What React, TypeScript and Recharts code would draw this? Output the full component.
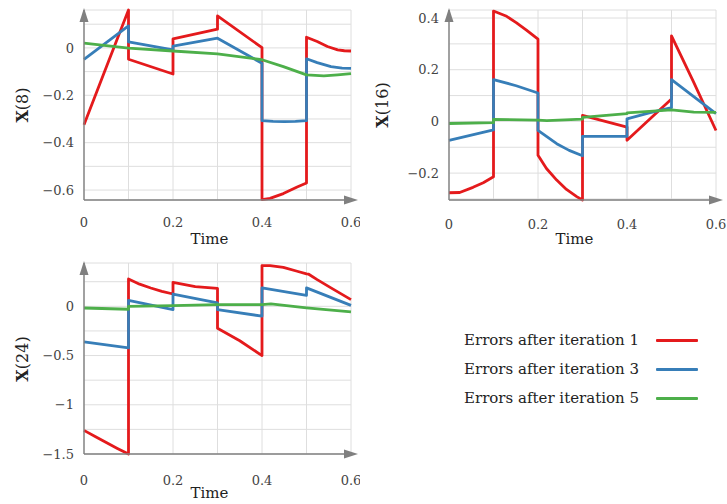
import { LineChart, Line, XAxis, YAxis, CartesianGrid } from "recharts";

type Pt = [number, number];

const RED = "#e41a1c";
const BLUE = "#377eb8";
const GREEN = "#4daf4a";
const FONT = "'DejaVu Serif', serif";

const timeTicks = [0, 0.1, 0.2, 0.3, 0.4, 0.5, 0.6];
const timeLabels = [0, 0.2, 0.4, 0.6];

// X(8)
const x8Ticks = [-0.6, -0.5, -0.4, -0.3, -0.2, -0.1, 0, 0.1];
const x8Labels = [-0.6, -0.4, -0.2, 0];
const x8Iter1: Pt[] = [
  [0, -0.324], [0.05, -0.082], [0.1, 0.16],
  [0.1, -0.048], [0.2, -0.11],
  [0.2, 0.038], [0.3, 0.079],
  [0.3, 0.135], [0.4, 0.001],
  [0.4, -0.64], [0.418, -0.635], [0.448, -0.615], [0.479, -0.587], [0.5, -0.57],
  [0.5, 0.045], [0.524, 0.027], [0.547, 0.006], [0.57, -0.008], [0.585, -0.012], [0.6, -0.013],
];
const x8Iter3: Pt[] = [
  [0, -0.048], [0.1, 0.093],
  [0.1, 0.025], [0.2, -0.008],
  [0.2, 0.008], [0.3, 0.041], [0.4, -0.065],
  [0.4, -0.307], [0.425, -0.31], [0.45, -0.311], [0.475, -0.31], [0.5, -0.307],
  [0.5, -0.046], [0.524, -0.062], [0.555, -0.079], [0.58, -0.085], [0.6, -0.086],
];
const x8Iter5: Pt[] = [
  [0, 0.02], [0.1, -0.001], [0.2, -0.013], [0.3, -0.025], [0.4, -0.05],
  [0.448, -0.079], [0.5, -0.114], [0.539, -0.118], [0.57, -0.114], [0.6, -0.109],
];

// X(16)
const x16Ticks = [-0.3, -0.2, -0.1, 0, 0.1, 0.2, 0.3, 0.4];
const x16Labels = [-0.2, 0, 0.2, 0.4];
const x16Iter1: Pt[] = [
  [0, -0.276], [0.024, -0.275], [0.054, -0.255], [0.077, -0.237], [0.1, -0.214],
  [0.1, 0.427], [0.128, 0.408], [0.151, 0.382], [0.174, 0.353], [0.2, 0.318],
  [0.2, -0.131], [0.219, -0.182], [0.242, -0.227], [0.264, -0.263], [0.287, -0.291], [0.3, -0.304],
  [0.3, 0.023], [0.4, -0.022],
  [0.4, -0.073], [0.452, 0.01], [0.5, 0.087],
  [0.5, 0.331], [0.55, 0.151], [0.6, -0.035],
];
const x16Iter3: Pt[] = [
  [0, -0.073], [0.1, -0.033],
  [0.1, 0.162], [0.151, 0.138], [0.2, 0.11],
  [0.2, -0.035], [0.242, -0.086], [0.27, -0.112], [0.3, -0.133],
  [0.3, -0.058], [0.4, -0.058],
  [0.4, 0.01], [0.45, 0.033], [0.5, 0.053],
  [0.5, 0.162], [0.6, 0.03],
];
const x16Iter5: Pt[] = [
  [0, -0.008], [0.1, -0.005],
  [0.1, 0.008], [0.2, 0.005], [0.22, 0.003], [0.3, 0.009],
  [0.3, 0.016], [0.4, 0.03],
  [0.4, 0.033], [0.5, 0.045], [0.55, 0.036], [0.6, 0.035],
];

// X(24)
const x24Ticks = [-1.5, -1.25, -1, -0.75, -0.5, -0.25, 0, 0.25];
const x24Labels = [-1.5, -1, -0.5, 0];
const x24Iter1: Pt[] = [
  [0, -1.26], [0.025, -1.322], [0.05, -1.384], [0.075, -1.443], [0.1, -1.5],
  [0.1, 0.278], [0.125, 0.225], [0.15, 0.186], [0.175, 0.152], [0.2, 0.125],
  [0.2, 0.244], [0.25, 0.2], [0.3, 0.183],
  [0.3, -0.223], [0.35, -0.35], [0.4, -0.5],
  [0.4, 0.414], [0.418, 0.414], [0.448, 0.396], [0.479, 0.356], [0.5, 0.329],
  [0.505, 0.326], [0.524, 0.271], [0.555, 0.187], [0.6, 0.068],
];
const x24Iter3: Pt[] = [
  [0, -0.362], [0.1, -0.423],
  [0.1, 0.061], [0.2, -0.034],
  [0.2, 0.125], [0.3, 0.034],
  [0.3, -0.034], [0.4, -0.1],
  [0.4, 0.187], [0.5, 0.112],
  [0.5, 0.187], [0.6, 0.01],
];
const x24Iter5: Pt[] = [
  [0, -0.017], [0.1, -0.03],
  [0.1, 0], [0.2, 0.007], [0.3, 0.017], [0.4, 0.017], [0.42, 0.024],
  [0.5, -0.016], [0.6, -0.057],
];

const legendItems = [
  { label: "Errors after iteration 1", color: RED },
  { label: "Errors after iteration 3", color: BLUE },
  { label: "Errors after iteration 5", color: GREEN },
];

const fmt = (v: number) => {
  if (v === 0) return "0";
  return (v < 0 ? "\u2212" : "") + String(Math.abs(v));
};

const hasLabel = (list: number[], v: number) => list.some((l) => Math.abs(l - v) < 1e-9);

const toRows = (pts: Pt[]) => pts.map(([t, v]) => ({ t, v }));

function Panel({
  left, top, width, height, margin, yWidth, yDomain, yTicks, yLabels, series, name, tickGap,
}: {
  left: number; top: number; width: number; height: number;
  margin: { top: number; right: number; bottom: number; left: number };
  yWidth: number; yDomain: [number, number]; yTicks: number[]; yLabels: number[];
  series: Pt[][]; name: string; tickGap: number;
}) {
  const colors = [RED, BLUE, GREEN];
  const plotBottom = height - margin.bottom - 30;
  const plotCenter = (yWidth + width - margin.right) / 2;
  const plotMid = (margin.top + plotBottom) / 2;
  return (
    <div style={{ position: "absolute", left, top, width, height }}>
      <LineChart width={width} height={height} margin={margin}>
        <CartesianGrid stroke="#dedede" strokeWidth={1} />
        <XAxis
          dataKey="t"
          type="number"
          domain={[0, 0.6]}
          ticks={timeTicks}
          interval={0}
          height={30}
          tickLine={false}
          tickSize={6}
          tickMargin={tickGap}
          tickFormatter={(v: number) => (hasLabel(timeLabels, v) ? fmt(v) : "")}
          tick={{ fill: "#444", fontSize: 13, fontFamily: FONT }}
          axisLine={{ stroke: "#808080", strokeWidth: 1.4, markerEnd: "url(#arrowX)" }}
        />
        <YAxis
          type="number"
          width={yWidth}
          domain={yDomain}
          ticks={yTicks}
          interval={0}
          tickLine={false}
          tickSize={4}
          tickMargin={6}
          tickFormatter={(v: number) => (hasLabel(yLabels, v) ? fmt(v) : "")}
          tick={{ fill: "#444", fontSize: 13, fontFamily: FONT }}
          axisLine={{ stroke: "#808080", strokeWidth: 1.4, markerStart: "url(#arrowY)" }}
        />
        {series.map((pts, i) => (
          <Line
            key={i}
            data={toRows(pts)}
            dataKey="v"
            type="linear"
            stroke={colors[i]}
            strokeWidth={2.8}
            strokeLinejoin="round"
            dot={false}
            isAnimationActive={false}
          />
        ))}
      </LineChart>
      <div
        style={{
          position: "absolute", left: plotCenter - 8, top: plotBottom + 39,
          transform: "translate(-50%, -50%)", fontFamily: FONT, fontSize: 15, color: "#222",
        }}
      >
        Time
      </div>
      <div
        style={{
          position: "absolute", left: 22, top: plotMid,
          transform: "translate(-50%, -50%) rotate(-90deg)", fontFamily: FONT, fontSize: 16,
          color: "#222", whiteSpace: "nowrap",
        }}
      >
        <b>X</b>({name})
      </div>
    </div>
  );
}

export default function App() {
  return (
    <div style={{ position: "absolute", left: 0, top: 0, width: 727, height: 504, background: "#fff" }}>
      <svg width={0} height={0} style={{ position: "absolute" }}>
        <defs>
          <marker id="arrowX" markerUnits="userSpaceOnUse" markerWidth={16} markerHeight={10}
            refX={7} refY={5} orient="auto-start-reverse">
            <path d="M0,0.5 L14,5 L0,9.5 z" fill="#808080" />
          </marker>
          <marker id="arrowY" markerUnits="userSpaceOnUse" markerWidth={16} markerHeight={10}
            refX={12} refY={5} orient="auto-start-reverse">
            <path d="M0,0.5 L14,5 L0,9.5 z" fill="#808080" />
          </marker>
        </defs>
      </svg>

      <Panel
        left={0} top={0} width={360} height={250}
        margin={{ top: 10, right: 9, bottom: 20, left: 0 }}
        yWidth={84} yDomain={[-0.642, 0.16]} yTicks={x8Ticks} yLabels={x8Labels}
        series={[x8Iter1, x8Iter3, x8Iter5]} name="8" tickGap={12}
      />
      <Panel
        left={360} top={0} width={367} height={250}
        margin={{ top: 10, right: 11, bottom: 20, left: 0 }}
        yWidth={89} yDomain={[-0.3, 0.431]} yTicks={x16Ticks} yLabels={x16Labels}
        series={[x16Iter1, x16Iter3, x16Iter5]} name="16" tickGap={14}
      />
      <Panel
        left={0} top={250} width={360} height={254}
        margin={{ top: 13, right: 9, bottom: 20, left: 0 }}
        yWidth={84} yDomain={[-1.5, 0.44]} yTicks={x24Ticks} yLabels={x24Labels}
        series={[x24Iter1, x24Iter3, x24Iter5]} name="24" tickGap={16}
      />

      {legendItems.map((it, i) => (
        <div key={it.label} style={{ position: "absolute", left: 440, top: 340 + i * 29 - 10, width: 260, height: 20 }}>
          <div
            style={{
              position: "absolute", right: 61, top: 0, lineHeight: "20px",
              fontFamily: FONT, fontSize: 15, color: "#222", whiteSpace: "nowrap",
            }}
          >
            {it.label}
          </div>
          <div style={{ position: "absolute", left: 216, top: 8.5, width: 42, height: 3, background: it.color, borderRadius: 1 }} />
        </div>
      ))}
    </div>
  );
}
